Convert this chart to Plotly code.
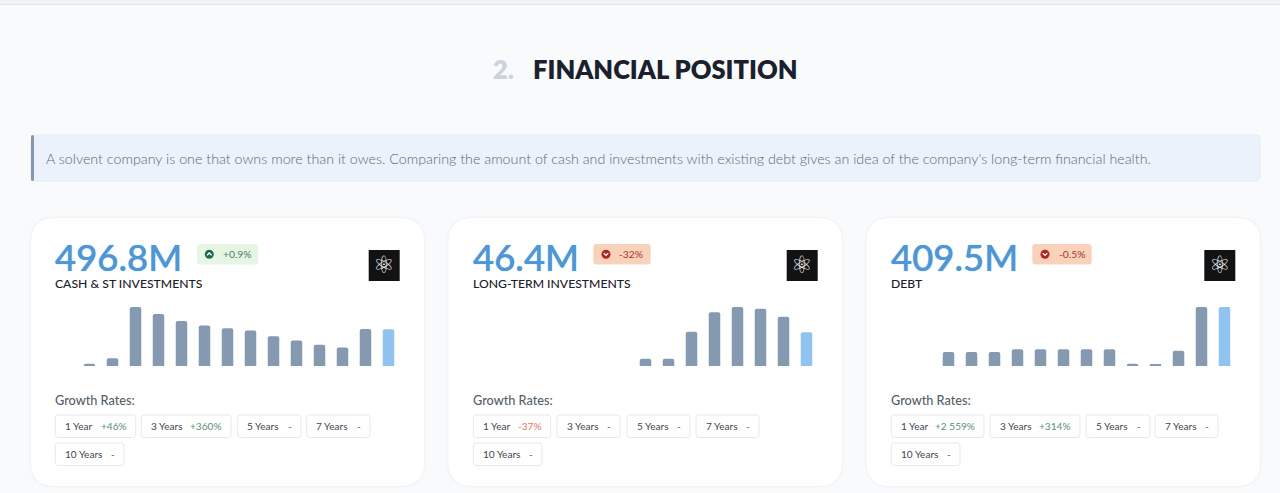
import plotly.graph_objects as go

W, H = 1280, 493

# ---------- data ----------
periods = [f"P{i}" for i in range(1, 16)]
section_number = "2."
section_title = "FINANCIAL POSITION"
intro = ("A solvent company is one that owns more than it owes. Comparing the amount of cash and investments "
         "with existing debt gives an idea of the company's long-term financial health.")
growth_label = "Growth Rates:"

cash_values = [None, 32, 104, 795, 700, 605, 546, 510, 479, 402, 343, 285, 248, 497, 496.8]
lt_values = [None] * 7 + [10.1, 10.1, 47.3, 73.9, 81.2, 78.9, 67.9, 46.4]
debt_values = [None, None, 98, 98, 98, 116, 116, 116, 116, 116, 16, 12, 105, 409.5, 409.5]

headlines = ["496.8M", "46.4M", "409.5M"]
names = ["CASH & ST INVESTMENTS", "LONG-TERM INVESTMENTS", "DEBT"]
changes = ["+0.9%", "-32%", "-0.5%"]
pill_labels = ["1 Year", "3 Years", "5 Years", "7 Years", "10 Years"]
cash_rates = ["+46%", "+360%", "-", "-", "-"]
lt_rates = ["-37%", "-", "-", "-", "-"]
debt_rates = ["+2 559%", "+314%", "-", "-", "-"]

# ---------- style / layout ----------
BG = "#f9fafc"
BAR = "#8599b1"
BAR_LAST = "#90c3f0"
card_boxes = [(31, 424), (448.5, 842), (866.5, 1260)]
content_left = [55.3, 473.3, 891.3]
icon_left = [368.7, 786.7, 1204.3]
badge_boxes = [(197, 258, 209.3, 237), (593.3, 650.7, 606, 631), (1032.3, 1091.7, 1045, 1071.7)]
pill_boxes = [
    [(55.3, 135.7), (141.3, 231), (237.7, 301), (306.7, 370), (55.3, 124)],
    [(473.3, 550.7), (557, 620), (627, 690), (696, 759), (473.3, 542)],
    [(891.3, 984), (990, 1080), (1086, 1150), (1155, 1218), (891.3, 960)],
]
series = [cash_values, lt_values, debt_values]
rates = [cash_rates, lt_rates, debt_rates]
PLOT_TOP, PLOT_BOTTOM, PLOT_W = 307, 366, 345


def px(x):
    return x / W


def py(y):
    return 1 - y / H


def rr_path(x0, y0, x1, y1, r):
    a, b, c, d = px(x0), py(y0), px(x1), py(y1)
    rx, ry = r / W, r / H
    return (f"M{a + rx},{b} L{c - rx},{b} Q{c},{b} {c},{b - ry} L{c},{d + ry} Q{c},{d} {c - rx},{d} "
            f"L{a + rx},{d} Q{a},{d} {a},{d + ry} L{a},{b - ry} Q{a},{b} {a + rx},{b} Z")


shapes, annotations = [], []


def box(x0, y0, x1, y1, r=0, fill="rgba(0,0,0,0)", line=None, lw=1):
    shapes.append(dict(type="path", xref="paper", yref="paper", layer="below",
                       path=rr_path(x0, y0, x1, y1, r), fillcolor=fill,
                       line=dict(color=line or "rgba(0,0,0,0)", width=lw if line else 0)))


def text(x, y, s, size, color, anchor="left", weight=400, family="Lato", shadow="none"):
    annotations.append(dict(xref="paper", yref="paper", x=px(x), y=py(y), text=s, showarrow=False,
                            xanchor=anchor, yanchor="middle", borderpad=0, borderwidth=0,
                            font=dict(family=family, size=size, color=color, weight=weight, shadow=shadow)))


# page furniture
box(0, 0, W, 4, 0, "#f1f2f5")
box(0, 4, W, 5, 0, "#e4e6ea")
text(493, 69, section_number, 25.5, "#cbd3dc", weight=800)
text(533, 69, section_title, 25.5, "#1a202c", weight=800)
box(31, 135, 1260, 181, 5, "#ebf2fc", "#e4ecf8")
box(31, 135, 34, 181, 1.5, "#8498b0")
text(46, 158, intro, 14.28, "#5f6875", weight=300)

fig = go.Figure()
for i, ((cx0, cx1), left) in enumerate(zip(card_boxes, content_left)):
    # card with soft shadow
    for grow, alpha in ((2.5, 0.008), (1.5, 0.012), (0.8, 0.016)):
        box(cx0 - grow, 218 - grow, cx1 + grow, 486 + grow, 24 + grow, f"rgba(30,50,80,{alpha})")
    box(cx0, 218, cx1, 486, 24, "#ffffff")

    text(left, 256.5, headlines[i], 36.5, "#4f96d6", weight=500, shadow="0 0 1px #4f96d6")
    text(left, 283.5, names[i], 12.2, "#1a202c", weight=500)

    # badge
    bx0, bx1, icon_x, label_x = badge_boxes[i]
    up = changes[i].startswith("+")
    box(bx0, 244, bx1, 264.5, 3, "#e6f6e4" if up else "#f9d2bb")
    shapes.append(dict(type="circle", xref="paper", yref="paper",
                       x0=px(icon_x - 4.5), x1=px(icon_x + 4.5), y0=py(254.2 + 4.5), y1=py(254.2 - 4.5),
                       fillcolor="#1f6b4f" if up else "#b3261e", line=dict(width=0)))
    d = -1 if up else 1
    shapes.append(dict(type="path", xref="paper", yref="paper",
                       path=f"M{px(icon_x - 2.3)},{py(254.2 - d * 1.1)} L{px(icon_x)},{py(254.2 + d * 1.2)} "
                            f"L{px(icon_x + 2.3)},{py(254.2 - d * 1.1)}",
                       line=dict(color="#ffffff", width=1.3)))
    text(label_x, 254.2, changes[i], 10.3, "#4a7c64" if up else "#a8342a", anchor="center")

    # logo
    ix = icon_left[i]
    box(ix, 250, ix + 31, 281, 0, "#111214")
    text(ix + 15.5, 265, "\u269b", 24, "#f2f2f2", anchor="center", family="DejaVu Sans")

    # bars
    xname = "x" if i == 0 else f"x{i + 1}"
    yname = "y" if i == 0 else f"y{i + 1}"
    vals = series[i]
    colors = [BAR] * (len(vals) - 1) + [BAR_LAST]
    fig.add_trace(go.Bar(x=periods, y=vals, xaxis=xname, yaxis=yname, showlegend=False,
                         marker=dict(color=colors, line=dict(width=0), cornerradius=2),
                         hoverinfo="skip"))
    axis_key = "" if i == 0 else str(i + 1)
    fig.update_layout({
        f"xaxis{axis_key}": dict(domain=[px(left - 0.3), px(left - 0.3 + PLOT_W)], visible=False, type="category",
                                 categoryorder="array", categoryarray=periods, range=[-0.5, 14.5],
                                 anchor=yname, fixedrange=True),
        f"yaxis{axis_key}": dict(domain=[py(PLOT_BOTTOM), py(PLOT_TOP)], visible=False,
                                 range=[0, max(v for v in vals if v is not None)],
                                 anchor=xname, fixedrange=True),
    })

    # growth rates
    text(left, 400, growth_label, 12.7, "#565f6c", weight=500)
    for j, (p0, p1) in enumerate(pill_boxes[i]):
        y0 = 415 if j < 4 else 443
        y1 = y0 + 22.5
        box(p0, y0, p1, y1, 3, "#ffffff", "#e7e9ed")
        text(p0 + 9.5, (y0 + y1) / 2, pill_labels[j], 10.1, "#3f4652")
        r = rates[i][j]
        color = "#5b8f78" if r.startswith("+") else ("#e0795c" if r != "-" else "#565f6c")
        text(p1 - 9, (y0 + y1) / 2, r, 10.1, color, anchor="right")

fig.update_layout(width=W, height=H, margin=dict(l=0, r=0, t=0, b=0), autosize=False,
                  paper_bgcolor=BG, plot_bgcolor="rgba(0,0,0,0)", bargap=0.5, showlegend=False,
                  shapes=shapes, annotations=annotations)

fig.write_html("out.html", config=dict(displayModeBar=False, responsive=False),
               post_script="document.body.style.margin='0';document.documentElement.style.overflow='hidden';")
